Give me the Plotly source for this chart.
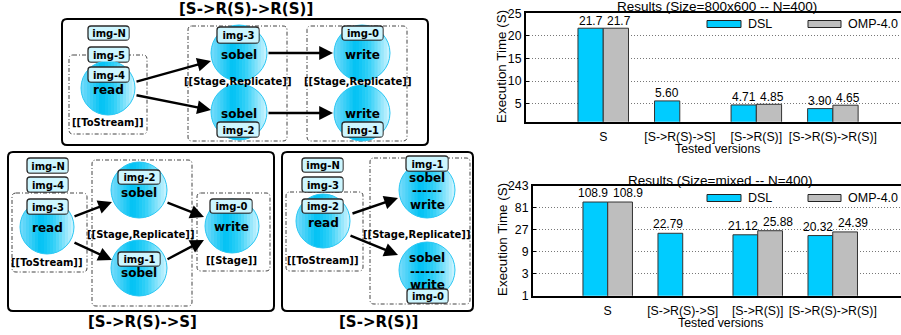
import math
import plotly.graph_objects as go

# ---------------- data ----------------
categories = ["S", "[S->R(S)->S]", "[S->R(S)]", "[S->R(S)->R(S)]"]
series_names = ["DSL", "OMP-4.0"]

dsl_800x600 = [21.7, 5.60, 4.71, 3.90]
omp_800x600 = [21.7, None, 4.85, 4.65]
dsl_800x600_text = ["21.7", "5.60", "4.71", "3.90"]
omp_800x600_text = ["21.7", "", "4.85", "4.65"]

dsl_mixed = [108.9, 22.79, 21.12, 20.32]
omp_mixed = [108.9, None, 25.88, 24.39]
dsl_mixed_text = ["108.9", "22.79", "21.12", "20.32"]
omp_mixed_text = ["108.9", "", "25.88", "24.39"]

ticks_800x600 = [5, 10, 15, 20, 25]
ticks_mixed = [1, 3, 9, 27, 81, 243]

title_800x600 = "Results (Size=800x600 -- N=400)"
title_mixed = "Results (Size=mixed -- N=400)"
y_title = "Execution Time (S)"
x_title = "Tested versions"

# ---------------- helpers (pixel -> paper) ----------------
W, H = 901, 335


def X(x):
    return x / W


def Y(y):
    return 1 - y / H


DSL_COLOR = "#00ccff"
OMP_COLOR = "#bebebe"
BAR_LINE = "#333333"
DIAG_FONT = "DejaVu Sans"
CHART_FONT = "Liberation Sans"

shapes = []
annotations = []


def rrect_path(x0, y0, x1, y1, r):
    return (f"M{X(x0 + r)},{Y(y0)} L{X(x1 - r)},{Y(y0)} Q{X(x1)},{Y(y0)} {X(x1)},{Y(y0 + r)} "
            f"L{X(x1)},{Y(y1 - r)} Q{X(x1)},{Y(y1)} {X(x1 - r)},{Y(y1)} "
            f"L{X(x0 + r)},{Y(y1)} Q{X(x0)},{Y(y1)} {X(x0)},{Y(y1 - r)} "
            f"L{X(x0)},{Y(y0 + r)} Q{X(x0)},{Y(y0)} {X(x0 + r)},{Y(y0)} Z")


def rrect(x0, y0, x1, y1, r=4, color="black", width=2, dash="solid", fill="rgba(0,0,0,0)"):
    shapes.append(dict(type="path", xref="paper", yref="paper", path=rrect_path(x0, y0, x1, y1, r),
                       line=dict(color=color, width=width, dash=dash), fillcolor=fill, layer="above"))


STOPS = [(0.0, (120, 220, 250)), (0.38, (0, 194, 244)), (0.62, (50, 208, 248)), (1.0, (210, 245, 255))]


def grad(t):
    for (t0, c0), (t1, c1) in zip(STOPS[:-1], STOPS[1:]):
        if t0 <= t <= t1:
            f = (t - t0) / (t1 - t0)
            return "rgb(%d,%d,%d)" % tuple(round(a + (b - a) * f) for a, b in zip(c0, c1))
    return "rgb(%d,%d,%d)" % STOPS[-1][1]


def circle(cx, cy, r=28):
    n = 18
    for i in range(n):
        xa = cx - r + 2 * r * i / n
        xb = min(cx - r + 2 * r * (i + 1) / n + 0.7, cx + r)
        xs = [xa + (xb - xa) * k / 5 for k in range(6)]
        up = [(x, cy - math.sqrt(max(r * r - (x - cx) ** 2, 0))) for x in xs]
        lo = [(x, cy + math.sqrt(max(r * r - (x - cx) ** 2, 0))) for x in reversed(xs)]
        pts = up + lo
        p = "M" + " L".join(f"{X(a)},{Y(b)}" for a, b in pts) + " Z"
        shapes.append(dict(type="path", xref="paper", yref="paper", path=p,
                           fillcolor=grad((i + 0.5) / n), line=dict(width=0), layer="above"))
    shapes.append(dict(type="circle", xref="paper", yref="paper", x0=X(cx - r), x1=X(cx + r),
                       y0=Y(cy + r), y1=Y(cy - r), line=dict(color="#2cc8f4", width=1), layer="above"))


def text(s, x, y, size=12, bold=True, family=DIAG_FONT, angle=0, xanchor="center", **kw):
    d = dict(text=s, x=X(x), y=Y(y), xref="paper", yref="paper", showarrow=False,
             xanchor=xanchor, yanchor="middle", textangle=angle,
             font=dict(family=family, size=size, color="black", weight="bold" if bold else "normal"))
    d.update(kw)
    annotations.append(d)


img_boxes = []


def img(s, x0, y0, x1, y1):
    rrect(x0, y0, x1, y1, r=3, color="#2a2a2a", width=1.3, fill="#cdf6ff")
    img_boxes.append((s, x0, y0, x1, y1))


def arrow(x0, y0, x1, y1):
    annotations.append(dict(text="", x=X(x1), y=Y(y1), xref="paper", yref="paper",
                            ax=x0 - x1, ay=y0 - y1, showarrow=True, arrowhead=2,
                            arrowsize=1.15, arrowwidth=2.4, arrowcolor="black", standoff=0))


def dashbox(x0, y0, x1, y1):
    rrect(x0, y0, x1, y1, r=4, color="#444444", width=1, dash="4px,2px,1px,2px")


# ---------------- diagram: [S->R(S)->R(S)] ----------------
rrect(62, 19, 428, 145, r=5, color="black", width=2)
text("[S->R(S)->R(S)]", 246, 9, size=15)
dashbox(69, 55, 147, 134)
dashbox(188, 26, 287, 141)
dashbox(307, 26, 407, 141)
img("img-N", 88, 26, 129, 40)
img("img-5", 88, 47, 129, 62)
circle(108, 88, 27)
circle(239, 53)
circle(239, 112)
circle(362, 53)
circle(362, 113)
img("img-4", 88, 67, 129, 82)
img("img-3", 217, 27, 259, 43)
img("img-2", 217, 122, 259, 137)
img("img-0", 342, 26, 383, 40)
img("img-1", 342, 122, 383, 137)
text("read", 108, 90)
text("[[ToStream]]", 108, 122, size=10)
text("sobel", 239, 55)
text("sobel", 239, 114)
text("[[Stage,Replicate]]", 238, 82, size=10)
text("write", 362, 55)
text("write", 362, 114)
text("[[Stage,Replicate]]", 358, 82, size=10)
arrow(135, 82, 211, 61)
arrow(135, 95, 211, 110)
arrow(267, 53, 333, 53)
arrow(267, 113, 333, 113)

# ---------------- diagram: [S->R(S)->S] ----------------
rrect(8, 152, 274, 311, r=5, color="black", width=2)
text("[S->R(S)->S]", 142, 322, size=15)
dashbox(12, 193, 87, 272)
dashbox(92, 160, 192, 306)
dashbox(197, 193, 270, 271)
img("img-N", 27, 158, 68, 173)
img("img-4", 27, 177, 68, 192)
circle(47, 227, 27)
circle(139, 190)
circle(139, 268)
circle(232, 226, 27)
img("img-3", 27, 199, 68, 214)
img("img-2", 118, 170, 160, 184)
img("img-1", 118, 252, 160, 266)
img("img-0", 210, 199, 252, 213)
text("read", 47, 228)
text("[[ToStream]]", 47, 262, size=10)
text("sobel", 139, 193)
text("sobel", 139, 273)
text("[[Stage,Replicate]]", 141, 234, size=10)
text("write", 232, 227)
text("[[Stage]]", 232, 260, size=10)
arrow(73, 217, 112, 202)
arrow(73, 242, 112, 260)
arrow(166, 202, 204, 217)
arrow(166, 260, 204, 240)

# ---------------- diagram: [S->R(S)] ----------------
rrect(282, 152, 473, 311, r=5, color="black", width=2)
text("[S->R(S)]", 378, 322, size=15)
dashbox(286, 192, 363, 271)
dashbox(370, 158, 470, 304)
img("img-N", 302, 158, 343, 172)
img("img-3", 302, 177, 343, 192)
circle(323, 221, 27)
circle(427, 190)
circle(427, 270)
img("img-2", 302, 199, 343, 213)
img("img-1", 406, 156, 448, 171)
img("img-0", 407, 289, 448, 303)
text("read", 323, 223)
text("[[ToStream]]", 323, 260, size=10)
text("sobel", 427, 178)
text("------", 427, 191)
text("write", 427, 205)
text("[[Stage,Replicate]]", 417, 234, size=10)
text("sobel", 427, 258)
text("-------", 427, 272)
text("write", 427, 285)
arrow(351, 214, 398, 198)
arrow(349, 235, 398, 255)

# img labels on top of everything (cover the text below them)
for s, x0, y0, x1, y1 in img_boxes:
    text(s, (x0 + x1) / 2, (y0 + y1) / 2 + 0.5, size=10, bgcolor="#cdf6ff",
         width=x1 - x0 - 3, height=y1 - y0 - 3, borderpad=0)

# ---------------- charts ----------------
fig = go.Figure()
BARGAP = 0.34


def bars(vals, name, color, xa, ya):
    fig.add_trace(go.Bar(x=categories, y=vals, name=name,
                         marker=dict(color=color, line=dict(color=BAR_LINE, width=1)),
                         cliponaxis=True, xaxis=xa, yaxis=ya,
                         showlegend=False, hoverinfo="skip"))


bars(dsl_800x600, series_names[0], DSL_COLOR, "x", "y")
bars(omp_800x600, series_names[1], OMP_COLOR, "x", "y")
bars(dsl_mixed, series_names[0], DSL_COLOR, "x2", "y2")
bars(omp_mixed, series_names[1], OMP_COLOR, "x2", "y2")


def value_labels(vals, txts, xref, yref, log, bar_px, side, extra, lift):
    for cat, v, t in zip(categories, vals, txts):
        if v is None or not t:
            continue
        annotations.append(dict(
            text=t, x=cat, y=math.log10(v) if log else v, xref=xref, yref=yref,
            showarrow=False, xanchor="center", yanchor="middle",
            xshift=side * bar_px / 2 + extra, yshift=lift,
            font=dict(family=CHART_FONT, size=12, color="black")))


top_unit = (W - 525.7) / (3.89 + 1.013)
bot_unit = (W - 532.7) / (3.91 + 1.0)
top_bar = (1 - BARGAP) * top_unit / 2
bot_bar = (1 - BARGAP) * bot_unit / 2
value_labels(dsl_800x600, dsl_800x600_text, "x", "y", False, top_bar, -1, 0, 7.5)
value_labels(omp_800x600, omp_800x600_text, "x", "y", False, top_bar, 1, 3, 7.5)
value_labels(dsl_mixed, dsl_mixed_text, "x2", "y2", True, bot_bar, -1, -2, 9)
value_labels(omp_mixed, omp_mixed_text, "x2", "y2", True, bot_bar, 1, 8, 9)

axis_common = dict(showline=True, linecolor="black", linewidth=1.5, automargin=False,
                   tickfont=dict(family=CHART_FONT, size=12.3, color="black"))
xcommon = dict(axis_common, mirror=True, ticks="", showgrid=False, zeroline=False,
               ticklabelstandoff=3)
ycommon = dict(axis_common, mirror=False, ticks="inside", ticklen=4, tickcolor="black",
               showgrid=True, gridcolor="#777777", griddash="1px,2px", gridwidth=1, zeroline=False)

fig.update_layout(
    width=W, height=H, margin=dict(l=0, r=0, t=0, b=0, autoexpand=False),
    paper_bgcolor="white", plot_bgcolor="white",
    barmode="group", bargap=BARGAP, bargroupgap=0, showlegend=False,
    font=dict(family=CHART_FONT, size=12, color="black"),
    xaxis=dict(xcommon, domain=[X(525.7), 1], range=[-1.013, 3.89], anchor="y"),
    yaxis=dict(ycommon, domain=[Y(121.7), Y(13.3)], range=[1, 25], tickvals=ticks_800x600,
               anchor="x"),
    xaxis2=dict(xcommon, domain=[X(532.7), 1], range=[-1.0, 3.91], anchor="y2"),
    yaxis2=dict(ycommon, domain=[Y(295.7), Y(186)], type="log", range=[0, math.log10(243)],
                tickvals=ticks_mixed, ticktext=[str(t) for t in ticks_mixed], anchor="x2"),
)

# chart titles / axis titles
text(title_800x600, 717, 6.5, size=13.5, bold=False, family=CHART_FONT)
text(title_mixed, 720, 180, size=13.5, bold=False, family=CHART_FONT)
text(y_title, 502, 67, size=13.4, bold=False, family=CHART_FONT, angle=-90)
text(y_title, 502, 240, size=13.4, bold=False, family=CHART_FONT, angle=-90)
text(x_title, 717, 149, size=12.3, bold=False, family=CHART_FONT)
text(x_title, 720, 323, size=12.3, bold=False, family=CHART_FONT)

# legends (drawn as swatches + text)
for ly in (24, 198):
    for (x0, x1), col, name in zip(((707, 741), (808, 841)), (DSL_COLOR, OMP_COLOR), series_names):
        shapes.append(dict(type="rect", xref="paper", yref="paper", x0=X(x0), x1=X(x1),
                           y0=Y(ly + 3.5), y1=Y(ly - 3.5), fillcolor=col,
                           line=dict(color="#222222", width=1), layer="above"))
        text(name, x1 + 5, ly, size=12.5, bold=False, family=CHART_FONT, xanchor="left")

fig.update_layout(shapes=shapes, annotations=annotations)
fig.write_html("out.html", config={"displayModeBar": False},
               post_script="document.body.style.margin='0';document.body.style.overflow='hidden';")
